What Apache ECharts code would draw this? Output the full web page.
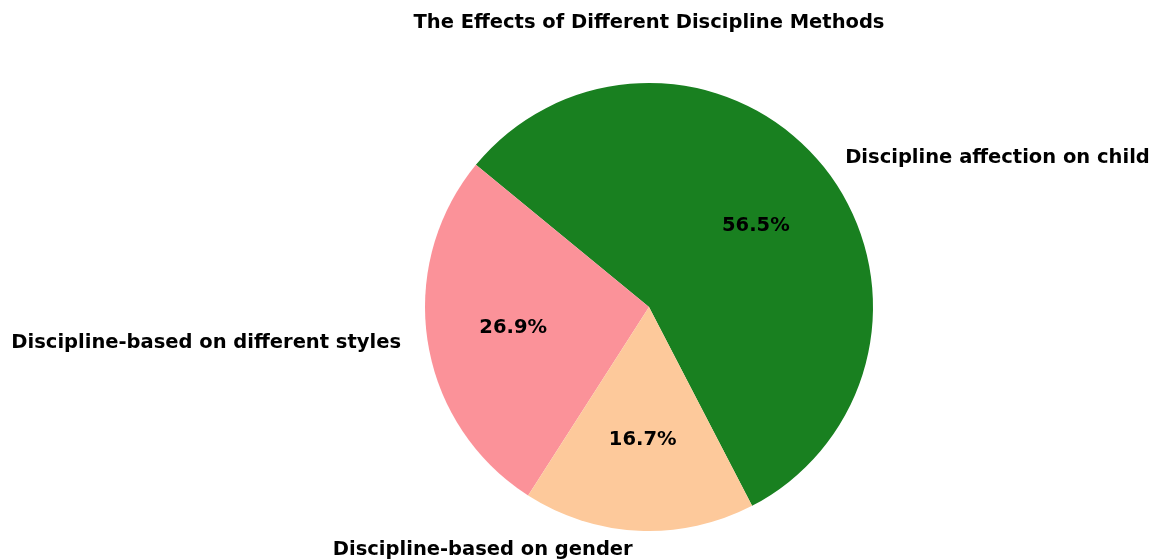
<!DOCTYPE html>
<html>
<head>
<meta charset="utf-8">
<script src="https://cdn.jsdelivr.net/npm/echarts@6/dist/echarts.min.js"></script>
<style>
  html, body { margin: 0; padding: 0; background: #fff; }
  #chart { width: 1156px; height: 559px; }
</style>
</head>
<body>
<div id="chart"></div>
<script>
const categories = ['Discipline affection on child', 'Discipline-based on different styles', 'Discipline-based on gender'];
const shares = [56.5, 26.9, 16.7];
const colors = ['#198020', '#fb9299', '#fdc99b'];

const font = 'DejaVu Sans';
// small nudges so the labels sit where the reference has them
const nameShiftY = [6, -2, -3];
const pctShiftY = [5, 0, -4];
const pieData = categories.map((name, i) => ({
  name: name, value: shares[i],
  itemStyle: { color: colors[i] }
}));

const chart = echarts.init(document.getElementById('chart'), null, { renderer: 'canvas' });
const option = {
  backgroundColor: '#fff',
  animation: false,
  title: {
    text: 'The Effects of Different Discipline Methods',
    left: 644,
    textAlign: 'center',
    top: 8,
    textStyle: { fontFamily: font, fontWeight: 'bold', fontSize: 19.5, color: '#000' }
  },
  series: [
    {
      type: 'pie',
      center: [649, 307],
      radius: [0, 224],
      startAngle: -62.6,
      clockwise: false,
      avoidLabelOverlap: false,
      silent: true,
      data: pieData,
      label: {
        position: 'outside',
        formatter: '{b}',
        fontFamily: font, fontWeight: 'bold', fontSize: 19.5, color: '#000'
      },
      labelLine: { show: false, length: 22, length2: 0 },
      labelLayout: p => ({ dy: nameShiftY[p.dataIndex] })
    },
    {
      type: 'pie',
      center: [649, 307],
      radius: [45, 224],
      startAngle: -62.6,
      clockwise: false,
      avoidLabelOverlap: false,
      silent: true,
      data: categories.map((name, i) => ({ name: name, value: shares[i] })),
      itemStyle: { color: 'rgba(0,0,0,0)' },
      label: {
        position: 'inside',
        formatter: p => p.value.toFixed(1) + '%',
        fontFamily: font, fontWeight: 'bold', fontSize: 19.5, color: '#000'
      },
      labelLine: { show: false },
      labelLayout: p => ({ dy: pctShiftY[p.dataIndex] })
    }
  ]
};
option && chart.setOption(option);
</script>
</body>
</html>
